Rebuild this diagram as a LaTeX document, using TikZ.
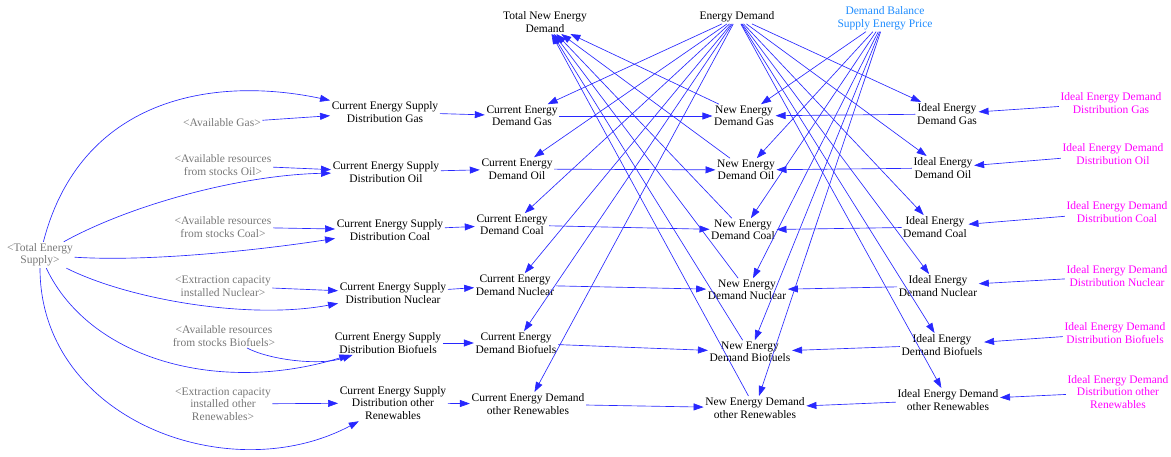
\documentclass[tikz,border=0pt]{standalone}
\usepackage{fontspec}
\setmainfont{Liberation Serif}
\usetikzlibrary{arrows.meta}
\definecolor{linkblue}{RGB}{40,40,255}
\definecolor{shadowgray}{RGB}{120,120,120}
\definecolor{pricecol}{RGB}{30,140,255}
\definecolor{idealcol}{RGB}{255,0,255}

\begin{document}
\begin{tikzpicture}[x=1pt,y=-1pt,
  var/.style={align=center,inner sep=1.5pt,font=\fontsize{11.5}{12.5}\selectfont},
  shadowvar/.style={var,text=shadowgray},
  pricevar/.style={var,text=pricecol},
  idealvar/.style={var,text=idealcol},
  link/.style={draw=linkblue,line width=0.65pt,-{Triangle[length=10pt,width=7pt]}},
]
\useasboundingbox (0,0) rectangle (1171,457);

% supply side (shadow variables)
\node[shadowvar] (tes) at (40,255) {<Total Energy\\Supply>};
\node[shadowvar] (sh1) at (222,123) {<Available Gas>};
\node[shadowvar] (sh2) at (223,165) {<Available resources\\from stocks Oil>};
\node[shadowvar] (sh3) at (223,227) {<Available resources\\from stocks Coal>};
\node[shadowvar] (sh4) at (223,286) {<Extraction capacity\\installed Nuclear>};
\node[shadowvar] (sh5) at (224,336) {<Available resources\\from stocks Biofuels>};
\node[shadowvar] (sh6) at (223,404) {<Extraction capacity\\installed other\\Renewables>};

% current energy supply distribution
\node[var] (s1) at (385,112) {Current Energy Supply\\Distribution Gas};
\node[var] (s2) at (386,172) {Current Energy Supply\\Distribution Oil};
\node[var] (s3) at (390,230) {Current Energy Supply\\Distribution Coal};
\node[var] (s4) at (393,293) {Current Energy Supply\\Distribution Nuclear};
\node[var] (s5) at (388,343) {Current Energy Supply\\Distribution Biofuels};
\node[var] (s6) at (393,403) {Current Energy Supply\\Distribution other\\Renewables};

% current energy demand
\node[var] (c1) at (522,116) {Current Energy\\Demand Gas};
\node[var] (c2) at (517,169) {Current Energy\\Demand Oil};
\node[var] (c3) at (512,225) {Current Energy\\Demand Coal};
\node[var] (c4) at (515,285) {Current Energy\\Demand Nuclear};
\node[var] (c5) at (516,343) {Current Energy\\Demand Biofuels};
\node[var] (c6) at (528,404) {Current Energy Demand\\other Renewables};

% top row
\node[var] (tned) at (545,22) {Total New Energy\\Demand};
\node[var] (ed) at (737,17) {Energy Demand};
\node[pricevar] (db) at (885,18.5) {Demand Balance\\Supply Energy Price};

% new energy demand
\node[var] (n1) at (744,116) {New Energy\\Demand Gas};
\node[var] (n2) at (746,170) {New Energy\\Demand Oil};
\node[var] (n3) at (743,230) {New Energy\\Demand Coal};
\node[var] (n4) at (747,290) {New Energy\\Demand Nuclear};
\node[var] (n5) at (750,352) {New Energy\\Demand Biofuels};
\node[var] (n6) at (755,408) {New Energy Demand\\other Renewables};

% ideal energy demand
\node[var] (i1) at (947,114) {Ideal Energy\\Demand Gas};
\node[var] (i2) at (943,168) {Ideal Energy\\Demand Oil};
\node[var] (i3) at (935,227) {Ideal Energy\\Demand Coal};
\node[var] (i4) at (938,286) {Ideal Energy\\Demand Nuclear};
\node[var] (i5) at (942,345) {Ideal Energy\\Demand Biofuels};
\node[var] (i6) at (948,400) {Ideal Energy Demand\\other Renewables};

% ideal distribution shares
\node[idealvar] (d1) at (1111,103) {Ideal Energy Demand\\Distribution Gas};
\node[idealvar] (d2) at (1113,154) {Ideal Energy Demand\\Distribution Oil};
\node[idealvar] (d3) at (1117,212) {Ideal Energy Demand\\Distribution Coal};
\node[idealvar] (d4) at (1117,276) {Ideal Energy Demand\\Distribution Nuclear};
\node[idealvar] (d5) at (1115,333) {Ideal Energy Demand\\Distribution Biofuels};
\node[idealvar] (d6) at (1118,392) {Ideal Energy Demand\\Distribution other\\Renewables};

% total energy supply feeding every distribution
\draw[link] (tes) .. controls (80,100) and (210,75) .. (s1);
\draw[link] (tes) .. controls (130,205) and (240,175) .. (s2);
\draw[link] (tes) .. controls (150,262) and (260,250) .. (s3);
\draw[link] (tes) .. controls (130,300) and (250,320) .. (s4);
\draw[link] (tes) .. controls (90,360) and (220,395) .. (s5);
\draw[link] (tes) .. controls (40,420) and (230,490) .. (s6);

% available resources per source
\draw[link] (sh1) -- (s1);
\draw[link] (sh2) -- (s2);
\draw[link] (sh3) -- (s3);
\draw[link] (sh4) -- (s4);
\draw[link] (sh5) .. controls (270,360) and (320,366) .. (s5);
\draw[link] (sh6) -- (s6);

\foreach \k in {1,...,6} {
  \draw[link] (s\k) -- (c\k);
  \draw[link] (c\k) -- (n\k);
  \draw[link] (i\k) -- (n\k);
  \draw[link] (d\k) -- (i\k);
  \draw[link] (ed) -- (c\k);
  \draw[link] (ed) -- (i\k);
  \draw[link] (db) -- (n\k);
  \draw[link] (n\k) -- (tned);
}
\end{tikzpicture}
\end{document}
